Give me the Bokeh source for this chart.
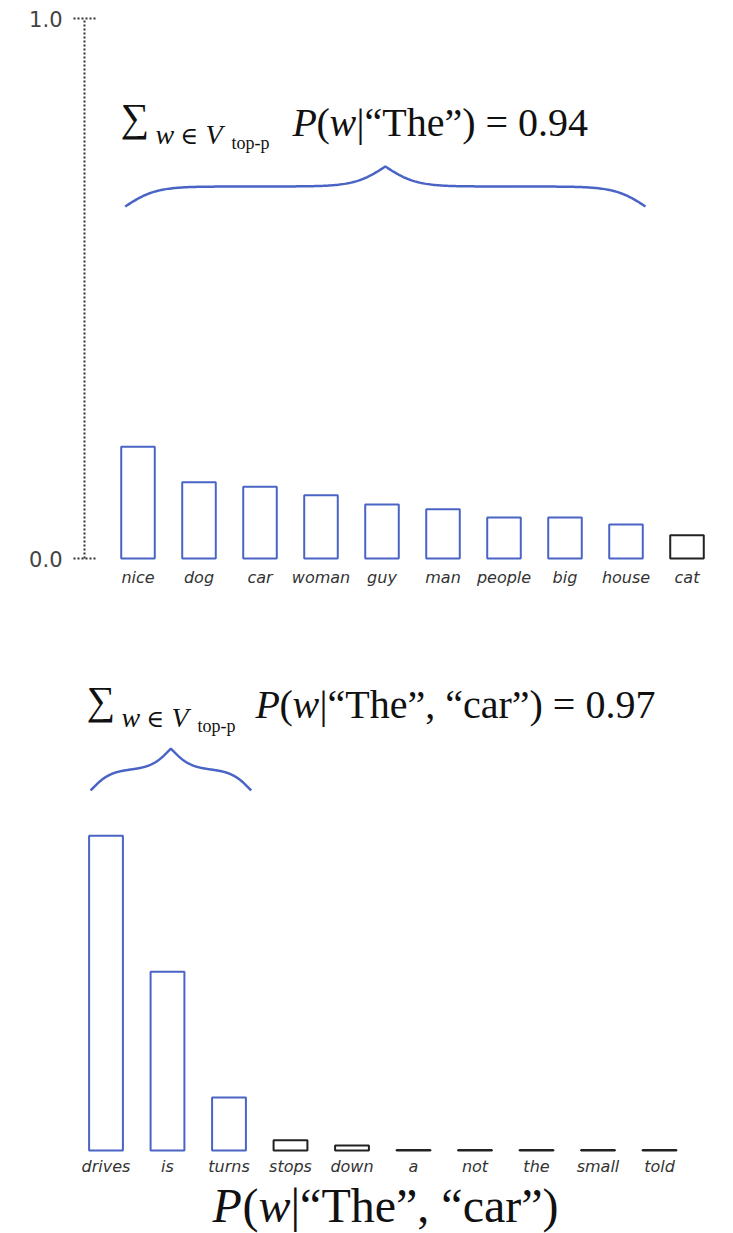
import numpy as np
from bokeh.plotting import figure
from bokeh.models import Range1d, LinearAxis, FixedTicker, ColumnDataSource, LabelSet
from bokeh.layouts import column
from bokeh.core.properties import value
from bokeh.embed import file_html
from bokeh.resources import INLINE

# ---------------- data ----------------
top_words = ["nice", "dog", "car", "woman", "guy", "man", "people", "big", "house", "cat"]
top_probs = [0.207, 0.141, 0.133, 0.117, 0.100, 0.091, 0.076, 0.076, 0.063, 0.043]
top_set_size_1 = 9
top_sum_1 = 0.94

bot_words = ["drives", "is", "turns", "stops", "down", "a", "not", "the", "small", "told"]
bot_probs = [0.558, 0.317, 0.094, 0.018, 0.009, 0.001, 0.001, 0.001, 0.001, 0.001]
top_set_size_2 = 3
top_sum_2 = 0.97

y_ticks = [0.0, 1.0]
y_tick_labels = ["0.0", "1.0"]

# ---------------- style ----------------
BLUE = "#4a64c6"
BLACK = "#222222"
LABEL_COLOR = "#333333"
SERIF = "Liberation Serif"
W = 733

# ---------------- layout helpers (picture pixel -> data) ----------------
TOP_H = 620
BOT_H = 613
FRAME_LEFT = 84
BOT_FRAME_LEFT = 0
TOP_STEP = 61.0
TOP_X0 = -(137.5 - FRAME_LEFT) / TOP_STEP
TOP_BASE = 558.0
TOP_SCALE = 540.0


def tx(px):
    return TOP_X0 + (px - FRAME_LEFT) / TOP_STEP


def ty(py):
    return (TOP_BASE - py) / TOP_SCALE


BOT_STEP = 61.5
BOT_X0 = -(105.5 - BOT_FRAME_LEFT) / BOT_STEP
BOT_BASE = 1150.0
BOT_SCALE = 564.0
BOT_TOP = TOP_H


def bx(px):
    return BOT_X0 + (px - BOT_FRAME_LEFT) / BOT_STEP


def by(py):
    return (BOT_BASE - py) / BOT_SCALE


def put(p, fx, fy, px, py, s, size, font=SERIF, style="normal", color="#111111"):
    # py is the wanted visual baseline in picture pixels
    p.text(x=[fx(px)], y=[fy(py - 0.32 * size)], text=[s], text_font=value(font),
           text_font_size=f"{size}px", text_font_style=style,
           text_color=color, text_align="left", text_baseline="alphabetic")


def brace(p, xl, xr, y_end, y_tip, step, k=0.065):
    half = (xr - xl) * step / 2.0
    t = np.linspace(0, half, 160)
    sig = lambda z: 1.0 / (1.0 + np.exp(-z))
    s = sig(k * t) + sig(k * (t - half))
    f = (s - s[0]) / (s[-1] - s[0])
    xs_half = xl + t / step
    ys_half = y_end + (y_tip - y_end) * f
    xs = np.concatenate([xs_half, (xr - (xs_half - xl))[::-1][1:]])
    ys = np.concatenate([ys_half, ys_half[::-1][1:]])
    p.line(xs, ys, line_color=BLUE, line_width=2.5)


def bars_and_labels(p, words, probs, n_sel, label_y, width=0.55):
    idx = list(range(len(words)))
    colors = [BLUE if i < n_sel else BLACK for i in idx]
    src = ColumnDataSource(dict(x=idx, top=probs, c=colors, w=words,
                                ly=[label_y] * len(words)))
    p.vbar(x="x", top="top", bottom=0, width=width, source=src,
           fill_color="white", line_color="c", line_width=2)
    p.add_layout(LabelSet(x="x", y="ly", text="w", source=src,
                          text_font=value("DejaVu Sans"), text_font_size="16px",
                          text_font_style="italic", text_color=LABEL_COLOR,
                          text_align="center", text_baseline="middle"))


# ---------------- top figure ----------------
top = figure(width=W, height=TOP_H, output_backend="svg", toolbar_location=None,
             x_range=Range1d(tx(FRAME_LEFT), tx(W)),
             y_range=Range1d(ty(TOP_H), ty(0)),
             x_axis_location=None, y_axis_location=None,
             min_border_left=FRAME_LEFT, min_border_right=0, min_border_top=0,
             min_border_bottom=0)
top.grid.visible = False
top.outline_line_color = None
top.background_fill_color = "white"

yax = LinearAxis(ticker=FixedTicker(ticks=y_ticks), bounds=(0, 1))
yax.major_label_overrides = {t: l for t, l in zip(y_ticks, y_tick_labels)}
yax.axis_line_dash = "2 2"
yax.axis_line_color = "#333333"
yax.axis_line_width = 2
yax.major_tick_line_dash = "2 2"
yax.major_tick_line_color = "#333333"
yax.major_tick_line_width = 2
yax.major_tick_in = 11
yax.major_tick_out = 11
yax.minor_tick_line_color = None
yax.major_label_standoff = 11
yax.major_label_text_font = "DejaVu Sans"
yax.major_label_text_font_size = "21px"
yax.major_label_text_color = "#444444"
top.add_layout(yax, "left")

bars_and_labels(top, top_words, top_probs, top_set_size_1, ty(577))

brace(top, -0.21, top_set_size_1 - 1 + 0.32, ty(206), ty(166), TOP_STEP, k=0.065)

put(top, tx, ty, 120, 130, "\u2211", 40)
put(top, tx, ty, 155, 143, "w", 28, style="italic")
put(top, tx, ty, 180, 143, "\u2208", 24, font="DejaVu Serif")
put(top, tx, ty, 205, 143, "V", 28, style="italic")
put(top, tx, ty, 231, 148, "top-p", 18)
put(top, tx, ty, 292, 135, "P", 40, style="italic")
put(top, tx, ty, 316, 135, "(", 40)
put(top, tx, ty, 329, 135, "w", 40, style="italic")
put(top, tx, ty, 356, 135, "|\u201cThe\u201d) = " + f"{top_sum_1:.2f}", 40)

# ---------------- bottom figure ----------------
bot = figure(width=W, height=BOT_H, output_backend="svg", toolbar_location=None,
             x_range=Range1d(bx(BOT_FRAME_LEFT), bx(W)),
             y_range=Range1d(by(BOT_TOP + BOT_H), by(BOT_TOP)),
             x_axis_location=None, y_axis_location=None,
             min_border_left=BOT_FRAME_LEFT, min_border_right=0, min_border_top=0,
             min_border_bottom=0)
bot.grid.visible = False
bot.outline_line_color = None
bot.background_fill_color = "white"

bars_and_labels(bot, bot_words, bot_probs, top_set_size_2, by(1166))

brace(bot, -0.25, top_set_size_2 - 1 + 0.36, by(790), by(748), BOT_STEP, k=0.1)

put(bot, bx, by, 86, 713, "\u2211", 40)
put(bot, bx, by, 121, 726, "w", 28, style="italic")
put(bot, bx, by, 146, 726, "\u2208", 24, font="DejaVu Serif")
put(bot, bx, by, 171, 726, "V", 28, style="italic")
put(bot, bx, by, 197, 731, "top-p", 18)
put(bot, bx, by, 255, 717, "P", 40, style="italic")
put(bot, bx, by, 279, 717, "(", 40)
put(bot, bx, by, 292, 717, "w", 40, style="italic")
put(bot, bx, by, 319, 717, "|\u201cThe\u201d, \u201ccar\u201d) = " + f"{top_sum_2:.2f}", 40)

put(bot, bx, by, 212, 1220, "P", 48, style="italic")
put(bot, bx, by, 242, 1220, "(", 48)
put(bot, bx, by, 258, 1220, "w", 48, style="italic")
put(bot, bx, by, 290, 1220, "|\u201cThe\u201d, \u201ccar\u201d)", 48)

layout = column(top, column(bot))
open("out.html", "w").write(file_html(layout, INLINE))
